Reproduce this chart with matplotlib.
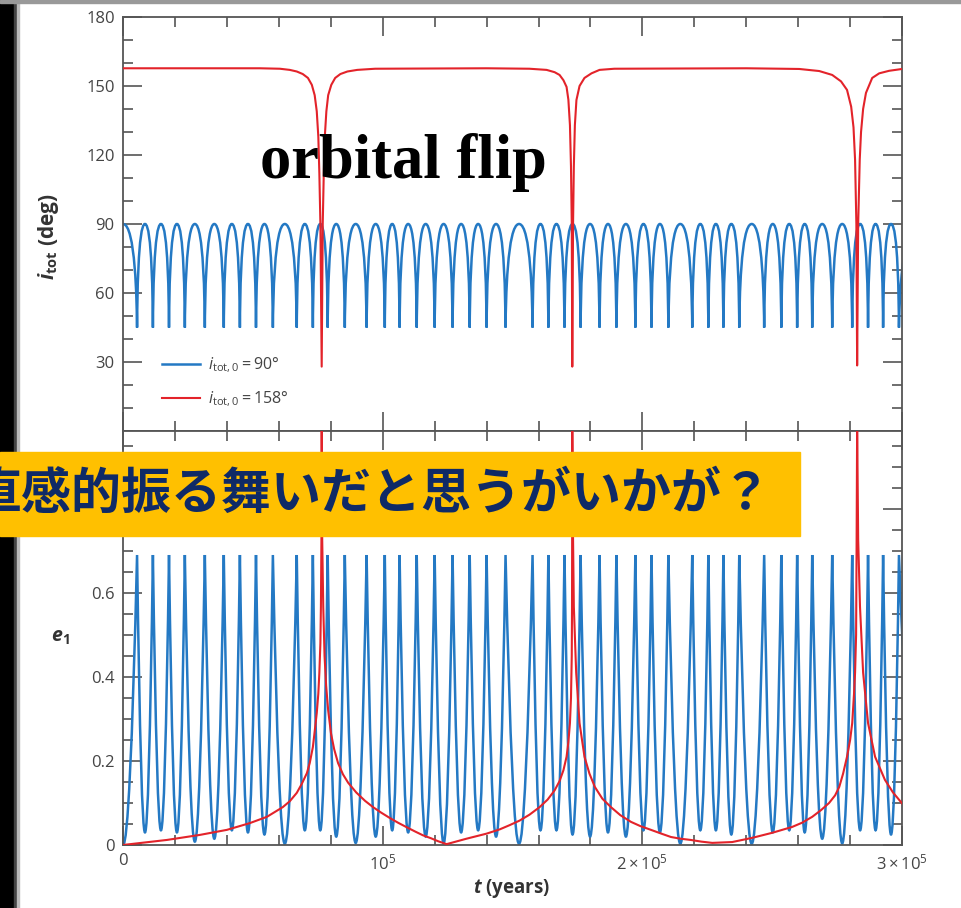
import matplotlib
matplotlib.use("Agg")
import matplotlib.pyplot as plt
from matplotlib.path import Path
from matplotlib.patches import PathPatch, Rectangle
from matplotlib.lines import Line2D
from matplotlib.ticker import MultipleLocator

### data (t in years)
# times of the blue Kozai cycles (i_tot dips = e_1 peaks), i_tot,0 = 90 deg run
blue_peak_t = [5400, 11500, 17700, 23800, 31500, 38800, 45000, 51200, 57700, 66900,
               73100, 78800, 85400, 93800, 100800, 106500, 113100, 120000, 126900, 133500,
               140000, 147300, 157700, 163800, 170000, 176200, 183500, 190000, 197300, 203500,
               210000, 219200, 225400, 231200, 237300, 246900, 253500, 259600, 265400, 273100,
               280800, 286900, 292700, 298800]
# e_1 minimum between two neighbouring peaks
blue_e_min = [0.030, 0.035, 0.030, 0.008, 0.015, 0.035, 0.030, 0.025, 0.003, 0.035,
              0.035, 0.020, 0.005, 0.020, 0.035, 0.030, 0.020, 0.004, 0.030, 0.035,
              0.020, 0.003, 0.035, 0.035, 0.025, 0.020, 0.030, 0.020, 0.035, 0.030,
              0.003, 0.035, 0.035, 0.025, 0.003, 0.030, 0.035, 0.030, 0.015, 0.004,
              0.035, 0.035, 0.025]
blue_e_max = 0.69
blue_i_top = 90.0
blue_i_dip = 45.0

# i_tot,0 = 158 deg run
red_i_t = [0, 30000, 52700, 60400, 64200, 66900, 69200, 71200, 72700, 73800,
           74600, 75200, 75600, 76000, 76500, 76900, 77300, 77700, 78300, 79000,
           80200, 81700, 83700, 86400, 90200, 97100, 140000, 156500, 163100, 166200,
           168100, 169600, 170800, 171500, 172100, 172500, 172800, 173000, 173300, 173600,
           174000, 174600, 175800, 177700, 180400, 183500, 189200, 240000, 260400, 268100,
           273100, 276500, 278800, 280400, 281300, 281900, 282400, 282700, 283100, 283700,
           284200, 285000, 286100, 288500, 291200, 295000, 300000]
red_i = [157.7, 157.7, 157.7, 157.5, 157.0, 156.3, 155.2, 153.5, 150.5, 146.0,
         139.0, 128.0, 112.0, 90.0, 28.0, 90.0, 112.0, 128.0, 139.0, 146.0,
         150.5, 153.5, 155.2, 156.3, 157.0, 157.5, 157.7, 157.5, 157.0, 156.0,
         154.8, 152.5, 149.6, 144.0, 133.0, 115.0, 90.0, 28.0, 90.0, 115.0,
         133.0, 143.9, 150.0, 153.5, 155.5, 157.0, 157.5, 157.7, 157.4, 156.5,
         154.8, 152.0, 148.3, 141.0, 132.0, 118.0, 90.0, 28.5, 90.0, 118.0,
         130.0, 140.0, 147.0, 153.5, 155.5, 156.6, 157.4]

red_e_t = [0, 16900, 29600, 40000, 48800, 55400, 61500, 64200, 66900, 68800,
           70800, 71900, 73100, 73800, 74600, 75200, 75600, 76000, 76200, 76400,
           76500, 76700, 77100, 77600, 78200, 79000, 80100, 81300, 82800, 84700,
           86700, 89800, 93200, 96300, 99400, 102800, 105900, 109000, 112500, 115500,
           118600, 121300, 124600, 132300, 140000, 145000, 148800, 152700, 156500, 160400,
           163500, 166200, 168100, 169600, 170800, 171500, 172100, 172500, 172800, 172900,
           172950, 173000, 173300, 173600, 174500, 175800, 177700, 179600, 181700, 184600,
           187900, 191500, 195600, 199200, 203300, 207300, 211000, 214600, 218600, 222700,
           226900, 234600, 242300, 250000, 257700, 261500, 265400, 268800, 271900, 274200,
           275800, 277300, 278800, 280000, 280800, 281500, 281900, 282300, 282500, 282700,
           283100, 283800, 285000, 286900, 289600, 293400, 296500, 300000]
red_e = [0.000, 0.012, 0.024, 0.036, 0.052, 0.067, 0.090, 0.104, 0.124, 0.145,
         0.171, 0.195, 0.233, 0.270, 0.314, 0.360, 0.410, 0.480, 0.567, 0.726,
         1.000, 0.726, 0.567, 0.450, 0.380, 0.320, 0.265, 0.228, 0.195, 0.168,
         0.148, 0.125, 0.105, 0.090, 0.077, 0.064, 0.053, 0.043, 0.032, 0.023,
         0.016, 0.009, 0.002, 0.015, 0.027, 0.037, 0.047, 0.058, 0.072, 0.090,
         0.108, 0.130, 0.152, 0.178, 0.210, 0.245, 0.290, 0.350, 0.450, 0.567,
         0.726, 1.000, 0.726, 0.567, 0.410, 0.290, 0.210, 0.170, 0.138, 0.110,
         0.090, 0.071, 0.055, 0.045, 0.036, 0.027, 0.019, 0.015, 0.012, 0.008,
         0.005, 0.007, 0.017, 0.029, 0.043, 0.053, 0.067, 0.083, 0.100, 0.118,
         0.138, 0.170, 0.210, 0.250, 0.290, 0.360, 0.410, 0.500, 0.726, 1.000,
         0.726, 0.567, 0.410, 0.290, 0.210, 0.155, 0.125, 0.099]

xticks = [0, 100000, 200000, 300000]
xticklabels = ['0', r'$\mathregular{10^5}$', r'$\mathregular{2\times10^5}$', r'$\mathregular{3\times10^5}$']
yticks_i = [30, 60, 90, 120, 150, 180]
yticks_e = [0, 0.2, 0.4, 0.6, 0.8]
yticklabels_e = ['0', '0.2', '0.4', '0.6', '']  # 0.8 sits under the banner

BLUE = '#2479c4'
RED = '#e3232a'

plt.rcParams['font.family'] = ['Open Sans', 'DejaVu Sans']
plt.rcParams['mathtext.fontset'] = 'custom'
plt.rcParams['mathtext.rm'] = 'Open Sans'
plt.rcParams['mathtext.it'] = 'Open Sans:italic'
plt.rcParams['mathtext.bf'] = 'Open Sans:bold'
plt.rcParams['mathtext.bfit'] = 'Open Sans:italic:bold'


### smooth Kozai cycles drawn as bezier pieces between read points
def kozai_path(peaks, peak_val, rest_vals, start, end, a, b, c):
    rest = [start] + [((peaks[k] + peaks[k + 1]) / 2, rest_vals[k]) for k in range(len(peaks) - 1)] + [end]
    verts = [start]
    codes = [Path.MOVETO]
    for k, tp in enumerate(peaks):
        tr, vr = rest[k]
        d = tp - tr
        verts += [(tr + a * d, vr), (tp - b * d, vr + c * (peak_val - vr)), (tp, peak_val)]
        tr, vr = rest[k + 1]
        d = tr - tp
        verts += [(tp + b * d, vr + c * (peak_val - vr)), (tr - a * d, vr), (tr, vr)]
        codes += [Path.CURVE4] * 6
    return Path(verts, codes)


fig = plt.figure(figsize=(9.62, 9.08), dpi=100)
ax1 = fig.add_axes([0.1279, 0.5253, 0.8098, 0.4560])
ax2 = fig.add_axes([0.1279, 0.0694, 0.8098, 0.4559])

# top: inclination
i_path = kozai_path(blue_peak_t, blue_i_dip, [blue_i_top] * (len(blue_peak_t) - 1),
                    (0, blue_i_top), (306800, blue_i_top), 0.88, 0.02, 0.75)
ax1.add_patch(PathPatch(i_path, fill=False, ec=BLUE, lw=1.8, zorder=2))
ax1.plot(red_i_t, red_i, color=RED, lw=1.5, zorder=3)
ax1.set_xlim(0, 300000)
ax1.set_ylim(0, 180)
ax1.set_yticks(yticks_i)
ax1.yaxis.set_minor_locator(MultipleLocator(10))

# bottom: eccentricity
e_path = kozai_path(blue_peak_t, blue_e_max, blue_e_min, (0, 0.0), (306800, 0.03),
                    1 / 3, 1 / 3, 1 / 3)
ax2.add_patch(PathPatch(e_path, fill=False, ec=BLUE, lw=1.8, zorder=2))
ax2.plot(red_e_t, red_e, color=RED, lw=1.5, zorder=3)
ax2.set_xlim(0, 300000)
ax2.set_ylim(0, 0.985)
ax2.set_yticks(yticks_e)
ax2.set_yticklabels(yticklabels_e)
ax2.yaxis.set_minor_locator(MultipleLocator(0.05))

for ax in (ax1, ax2):
    ax.set_xticks(xticks)
    ax.xaxis.set_minor_locator(MultipleLocator(20000))
    ax.tick_params(which='both', direction='in', top=True, right=True,
                   color='#555555', width=1.2, labelcolor='#444444', labelsize=12)
    ax.tick_params(which='major', length=14, pad=6)
    ax.tick_params(which='minor', length=7)
    for s in ax.spines.values():
        s.set_color('#555555')
        s.set_linewidth(1.3)

ax1.tick_params(labelbottom=False)
ax2.set_xticklabels(xticklabels)

ax1.set_ylabel(r'$\mathbfit{i}_{\mathbf{tot}}$ (deg)', fontsize=15, fontweight='bold', color='#333333')
ax1.yaxis.set_label_coords(-0.08, 0.47)
ax2.set_ylabel(r'$\mathbfit{e}_{\mathbf{1}}$', fontsize=14, fontweight='bold', color='#333333',
               rotation=0, va='center')
ax2.yaxis.set_label_coords(-0.081, 0.506)
ax2.set_xlabel(r'$\mathbfit{t}$ (years)', fontsize=13.5, fontweight='bold', color='#333333')
ax2.xaxis.set_label_coords(0.499, -0.078)

handles = [Line2D([], [], color=BLUE, lw=1.8), Line2D([], [], color=RED, lw=1.5)]
labels = [r'$\mathit{i}_{\mathrm{tot,0}}\mathrm{ = 90°}$', r'$\mathit{i}_{\mathrm{tot,0}}\mathrm{ = 158°}$']
ax1.legend(handles, labels, loc='upper left', bbox_to_anchor=(0.05, 0.182), frameon=False,
           fontsize=11.5, handlelength=2.4, handletextpad=0.5, labelspacing=0.95,
           borderpad=0, borderaxespad=0, labelcolor='#444444')

### slide decorations
W, H = 962, 908
fig.patches.append(Rectangle((0, 0), 14 / W, 1, transform=fig.transFigure, color='black', zorder=1))
fig.patches.append(Rectangle((14 / W, 0), 3 / W, 1, transform=fig.transFigure, color='#444444', zorder=1))
fig.patches.append(Rectangle((17 / W, 0), 2 / W, 1, transform=fig.transFigure, color='#bbbbbb', zorder=1))
fig.patches.append(Rectangle((0, 1 - 3 / H), 1, 3 / H, transform=fig.transFigure, color='#999999', zorder=1))
fig.patches.append(Rectangle((0, 1 - 536 / H), 800 / W, 84 / H, transform=fig.transFigure,
                             color='#ffc000', zorder=2))
fig.text(-29 / W, 1 - 494 / H, '直感的振る舞いだと思うがいかが？', family=['Noto Sans CJK JP', 'DejaVu Sans'],
         fontweight='bold', fontsize=36.0, color='#0f2a66', va='center', ha='left', zorder=4)
fig.text(260 / W, 1 - 178 / H, 'orbital flip', family=['Liberation Serif', 'DejaVu Serif'],
         fontweight='bold', fontsize=45, color='black', va='baseline', ha='left', zorder=4)

fig.savefig('out.png', dpi=100)
